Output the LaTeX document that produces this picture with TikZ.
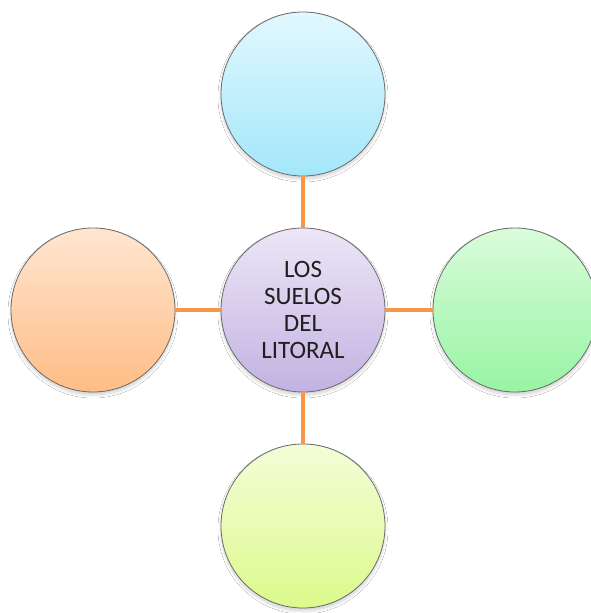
\documentclass[tikz,border=0pt]{standalone}
\usepackage{fontspec}
\setmainfont{Carlito}
\usetikzlibrary{shadows.blur}
\definecolor{linkorange}{HTML}{F79646}
\definecolor{rimgray}{HTML}{6A6A6A}
\definecolor{cyanTop}{HTML}{E2F8FE}\definecolor{cyanBot}{HTML}{A3E7FA}
\definecolor{lilaTop}{HTML}{ECE6F6}\definecolor{lilaBot}{HTML}{C3B2E2}
\definecolor{greenTop}{HTML}{DAFCDB}\definecolor{greenBot}{HTML}{97F4A3}
\definecolor{peachTop}{HTML}{FFE6D1}\definecolor{peachBot}{HTML}{FFBD85}
\definecolor{limeTop}{HTML}{F4FDD8}\definecolor{limeBot}{HTML}{DBFA8C}
\tikzset{
  bubble/.style 2 args={circle, minimum size=164pt, inner sep=0pt,
    draw=rimgray, line width=0.8pt, top color=#1, bottom color=#2,
    blur shadow={shadow xshift=0pt, shadow yshift=-3pt, shadow opacity=18, shadow blur steps=8, shadow blur radius=3pt}},
  link/.style={draw=linkorange, line width=3.5pt},
  label/.style={align=center, font=\fontsize{25}{27}\selectfont, text=black!88}
}
\begin{document}
\begin{tikzpicture}[x=1pt,y=-1pt]
  \useasboundingbox (0,0) rectangle (590,613);
  \fill[white] (0,0) rectangle (590,613);
  % outer bubbles
  \node[bubble={cyanTop}{cyanBot}]   (top)    at (303,94)  {};
  \node[bubble={peachTop}{peachBot}] (left)   at (93,310)  {};
  \node[bubble={greenTop}{greenBot}] (right)  at (515,310) {};
  \node[bubble={limeTop}{limeBot}]   (bottom) at (303,526) {};
  % central bubble
  \node[bubble={lilaTop}{lilaBot}] (hub) at (303,310) {};
  \node[label] (title) at (hub.center) {LOS\\SUELOS\\DEL\\LITORAL};
  % connectors
  \draw[link] (hub.north) -- (top.south);
  \draw[link] (hub.south) -- (bottom.north);
  \draw[link] (hub.west) -- (left.east);
  \draw[link] (hub.east) -- (right.west);
\end{tikzpicture}
\end{document}
